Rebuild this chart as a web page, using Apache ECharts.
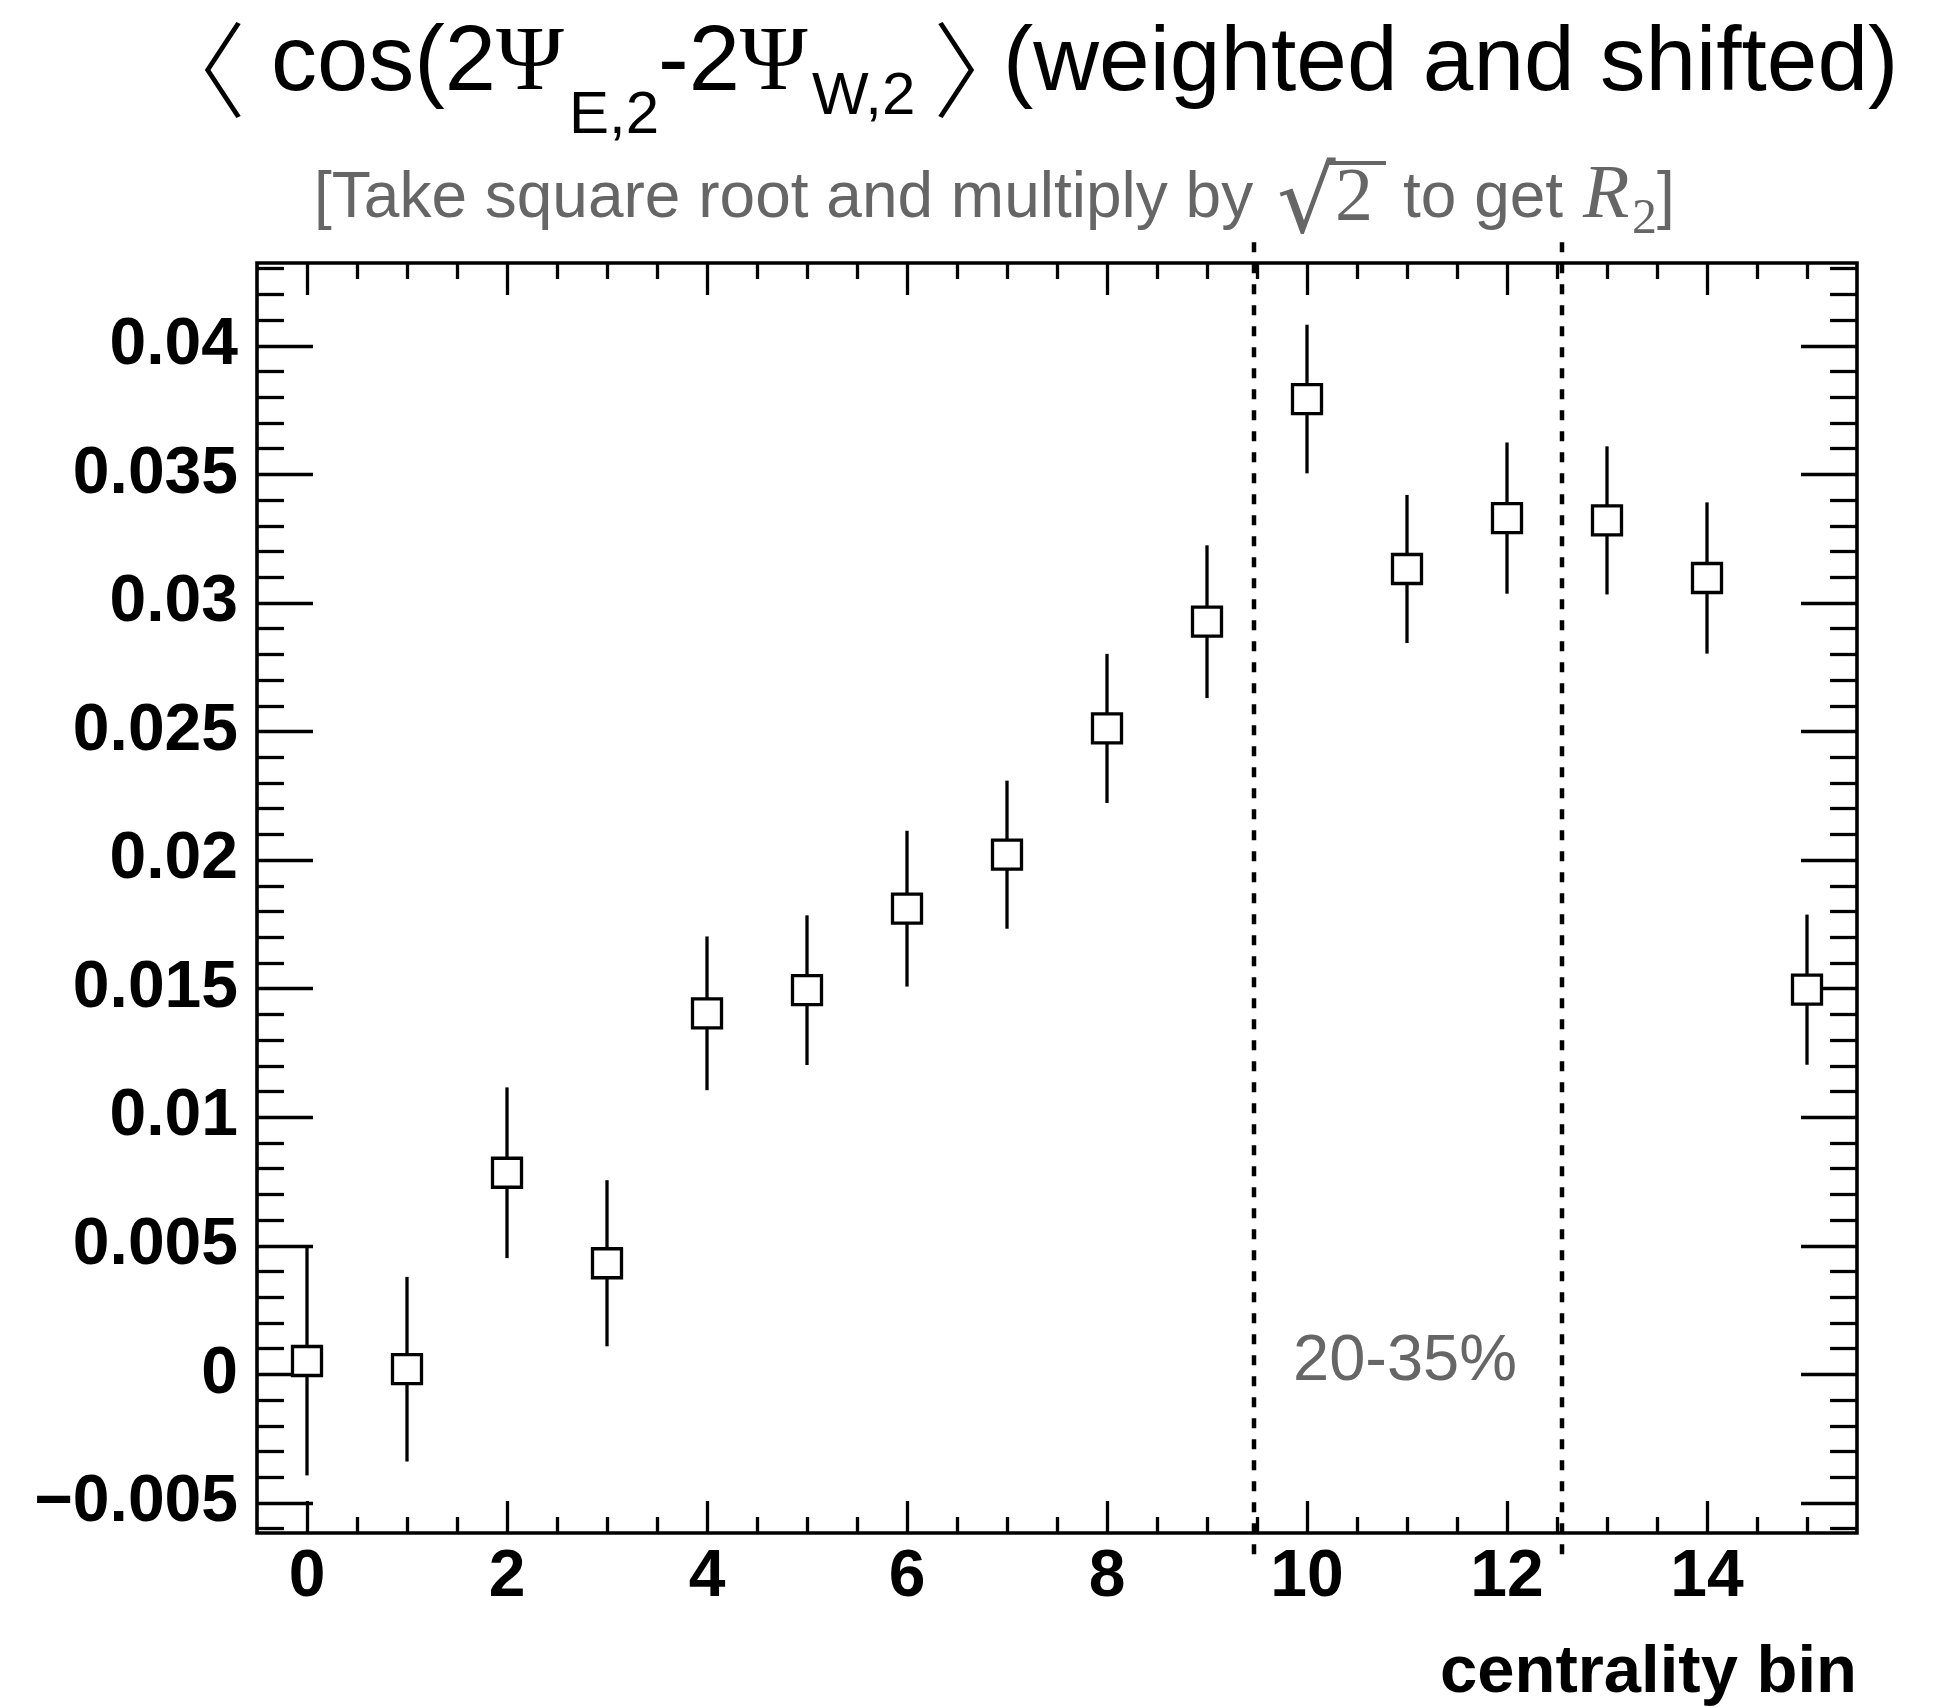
<!DOCTYPE html>
<html>
<head>
<meta charset="utf-8">
<script src="https://cdn.jsdelivr.net/npm/echarts@6/dist/echarts.min.js"></script>
<style>
html,body{margin:0;padding:0;background:#fff;}
#chart{width:1947px;height:1708px;}
</style>
</head>
<body>
<div id="chart"></div>
<script>
// ---------------- data ----------------
const bins = [0, 1, 2, 3, 4, 5, 6, 7, 8, 9, 10, 11, 12, 13, 14, 15];
const values = [0.00052, 0.00020, 0.00784, 0.00432, 0.01404, 0.01494, 0.01811, 0.02021,
                0.02512, 0.02927, 0.03793, 0.03132, 0.03330, 0.03321, 0.03097, 0.01496];
const errors = [0.00445, 0.00359, 0.00332, 0.00323, 0.00299, 0.00291, 0.00303, 0.00288,
                0.00290, 0.00297, 0.00289, 0.00288, 0.00294, 0.00288, 0.00294, 0.00292];

const xMajorTicks = [0, 2, 4, 6, 8, 10, 12, 14];
const xTickLabels = ['0', '2', '4', '6', '8', '10', '12', '14'];
const xMinorTicks = [0.5, 1, 1.5, 2.5, 3, 3.5, 4.5, 5, 5.5, 6.5, 7, 7.5, 8.5, 9, 9.5,
                     10.5, 11, 11.5, 12.5, 13, 13.5, 14.5, 15];
const yMajorTicks = [-0.005, 0, 0.005, 0.01, 0.015, 0.02, 0.025, 0.03, 0.035, 0.04];
const yTickLabels = ['\u22120.005', '0', '0.005', '0.01', '0.015', '0.02', '0.025', '0.03', '0.035', '0.04'];
const yMinorTicks = [-0.006, -0.004, -0.003, -0.002, -0.001,
                     0.001, 0.002, 0.003, 0.004, 0.006, 0.007, 0.008, 0.009,
                     0.011, 0.012, 0.013, 0.014, 0.016, 0.017, 0.018, 0.019,
                     0.021, 0.022, 0.023, 0.024, 0.026, 0.027, 0.028, 0.029,
                     0.031, 0.032, 0.033, 0.034, 0.036, 0.037, 0.038, 0.039,
                     0.041, 0.042, 0.043];
const xRange = [-0.5, 15.5];
const yRange = [-0.00617, 0.04322];
const boundaryLines = [9.47, 12.55];
const boundaryYRange = [-0.0070, 0.0443];

// ---------------- chart ----------------
const chart = echarts.init(document.getElementById('chart'), null, {renderer: 'canvas'});
const SANS = 'Liberation Sans';
const SERIF = 'Liberation Serif';
const CJK = 'Noto Sans CJK SC';
const GRAY = '#666666';
const LW = 3.3;

function labelFor(list, labels) {
  return function (v) {
    for (let i = 0; i < list.length; i++) {
      if (Math.abs(list[i] - v) < 1e-9) return labels[i];
    }
    return '';
  };
}

function xAxisDef(pos, ticks, len, withLabels) {
  return {
    type: 'value', position: pos, min: xRange[0], max: xRange[1], offset: 0,
    axisLine: {show: false, onZero: false}, splitLine: {show: false},
    axisTick: {show: true, inside: true, length: len, customValues: ticks,
               lineStyle: {color: '#000', width: LW}},
    axisLabel: withLabels ? {
      show: true, customValues: xMajorTicks, margin: 12,
      formatter: labelFor(xMajorTicks, xTickLabels),
      fontFamily: SANS, fontWeight: 'bold', fontSize: 66, color: '#000'
    } : {show: false}
  };
}
function yAxisDef(pos, ticks, len, withLabels) {
  return {
    type: 'value', position: pos, min: yRange[0], max: yRange[1], offset: 0,
    axisLine: {show: false, onZero: false}, splitLine: {show: false},
    axisTick: {show: true, inside: true, length: len, customValues: ticks,
               lineStyle: {color: '#000', width: LW}},
    axisLabel: withLabels ? {
      show: true, customValues: yMajorTicks, margin: 19,
      formatter: labelFor(yMajorTicks, yTickLabels),
      fontFamily: SANS, fontWeight: 'bold', fontSize: 66, color: '#000'
    } : {show: false}
  };
}

const errData = bins.map((b, i) => [b, values[i] - errors[i], values[i] + errors[i]]);
const ptData = bins.map((b, i) => [b, values[i]]);
const lineData = boundaryLines.map(x => [x, boundaryYRange[0], boundaryYRange[1]]);

const option = {
  animation: false,
  backgroundColor: '#fff',
  grid: {left: 257, top: 263, width: 1600, height: 1270, show: true,
         borderColor: '#000', borderWidth: 3.6, backgroundColor: 'transparent'},
  xAxis: [
    xAxisDef('bottom', xMajorTicks, 32, true),
    xAxisDef('bottom', xMinorTicks, 16, false),
    xAxisDef('top', xMajorTicks, 32, false),
    xAxisDef('top', xMinorTicks, 16, false)
  ],
  yAxis: [
    yAxisDef('left', yMajorTicks, 56, true),
    yAxisDef('left', yMinorTicks, 27, false),
    yAxisDef('right', yMajorTicks, 56, false),
    yAxisDef('right', yMinorTicks, 27, false)
  ],
  series: [
    {
      type: 'custom', name: 'errors', xAxisIndex: 0, yAxisIndex: 0, z: 3,
      data: errData, encode: {x: 0, y: [1, 2]},
      renderItem: function (params, api) {
        const p1 = api.coord([api.value(0), api.value(1)]);
        const p2 = api.coord([api.value(0), api.value(2)]);
        return {type: 'line', shape: {x1: p1[0], y1: p1[1], x2: p2[0], y2: p2[1]},
                style: {stroke: '#000', lineWidth: LW}};
      }
    },
    {
      type: 'scatter', name: 'points', xAxisIndex: 0, yAxisIndex: 0, z: 4,
      data: ptData, symbol: 'rect', symbolSize: 29,
      itemStyle: {color: '#fff', borderColor: '#000', borderWidth: LW, opacity: 1}
    },
    {
      type: 'custom', name: 'bounds', xAxisIndex: 0, yAxisIndex: 0, z: 5, clip: false,
      data: lineData, encode: {x: 0, y: [1, 2]},
      renderItem: function (params, api) {
        const p1 = api.coord([api.value(0), api.value(1)]);
        const p2 = api.coord([api.value(0), api.value(2)]);
        return {type: 'line', shape: {x1: p1[0], y1: p1[1], x2: p2[0], y2: p2[1]},
                style: {stroke: '#000', lineWidth: 4.5, lineDash: [10, 11]}};
      }
    }
  ],
  graphic: [
    // title
    {type: 'text', x: 194, y: 70, style: {text: '\u3008', fontFamily: CJK, fontWeight: 300, fontSize: 104,
      fill: '#000', textAlign: 'center', textVerticalAlign: 'middle'}},
    {type: 'text', x: 271, y: 65, style: {text: '{a|cos(2}{g|\u03A8}',
      rich: {a: {fontFamily: SANS, fontSize: 92, fill: '#000'}, g: {fontFamily: SERIF, fontSize: 92, fill: '#000'}},
      textAlign: 'left', textVerticalAlign: 'middle'}},
    {type: 'text', x: 569, y: 116, style: {text: 'E,2', fontFamily: SANS, fontSize: 60,
      fill: '#000', textAlign: 'left', textVerticalAlign: 'middle'}},
    {type: 'text', x: 658, y: 65, style: {text: '{a|-2}{g|\u03A8}',
      rich: {a: {fontFamily: SANS, fontSize: 92, fill: '#000'}, g: {fontFamily: SERIF, fontSize: 92, fill: '#000'}},
      textAlign: 'left', textVerticalAlign: 'middle'}},
    {type: 'text', x: 812, y: 97, style: {text: 'W,2', fontFamily: SANS, fontSize: 60,
      fill: '#000', textAlign: 'left', textVerticalAlign: 'middle'}},
    {type: 'text', x: 985, y: 70, style: {text: '\u3009', fontFamily: CJK, fontWeight: 300, fontSize: 104,
      fill: '#000', textAlign: 'center', textVerticalAlign: 'middle'}},
    {type: 'text', x: 1003, y: 65, style: {text: '(weighted and shifted)', fontFamily: SANS, fontSize: 91,
      fill: '#000', textAlign: 'left', textVerticalAlign: 'middle'}},
    // subtitle
    {type: 'text', x: 314, y: 199, style: {text: '[Take square root and multiply by', fontFamily: SANS, fontSize: 64,
      fill: GRAY, textAlign: 'left', textVerticalAlign: 'middle'}},
    {type: 'text', x: 1277, y: 208, style: {text: '\u221A', fontFamily: 'DejaVu Sans', fontSize: 92,
      fill: GRAY, textAlign: 'left', textVerticalAlign: 'middle'}},
    {type: 'line', shape: {x1: 1328, y1: 163, x2: 1386, y2: 163}, style: {stroke: GRAY, lineWidth: 4}},
    {type: 'text', x: 1335, y: 200, style: {text: '2', fontFamily: SERIF, fontSize: 76,
      fill: GRAY, textAlign: 'left', textVerticalAlign: 'middle'}},
    {type: 'text', x: 1403, y: 199, style: {text: 'to get', fontFamily: SANS, fontSize: 64,
      fill: GRAY, textAlign: 'left', textVerticalAlign: 'middle'}},
    {type: 'text', x: 1583, y: 197, style: {text: 'R', fontFamily: SERIF, fontStyle: 'italic', fontSize: 76,
      fill: GRAY, textAlign: 'left', textVerticalAlign: 'middle'}},
    {type: 'text', x: 1632, y: 220, style: {text: '2', fontFamily: SERIF, fontSize: 50,
      fill: GRAY, textAlign: 'left', textVerticalAlign: 'middle'}},
    {type: 'text', x: 1657, y: 199, style: {text: ']', fontFamily: SANS, fontSize: 64,
      fill: GRAY, textAlign: 'left', textVerticalAlign: 'middle'}},
    // annotation
    {type: 'text', x: 1293, y: 1362, style: {text: '20-35%', fontFamily: SANS, fontSize: 65,
      fill: GRAY, textAlign: 'left', textVerticalAlign: 'middle'}},
    // x axis title
    {type: 'text', x: 1857, y: 1674, style: {text: 'centrality bin', fontFamily: SANS, fontWeight: 'bold', fontSize: 67,
      fill: '#000', textAlign: 'right', textVerticalAlign: 'middle'}}
  ]
};
chart.setOption(option);
</script>
</body>
</html>
